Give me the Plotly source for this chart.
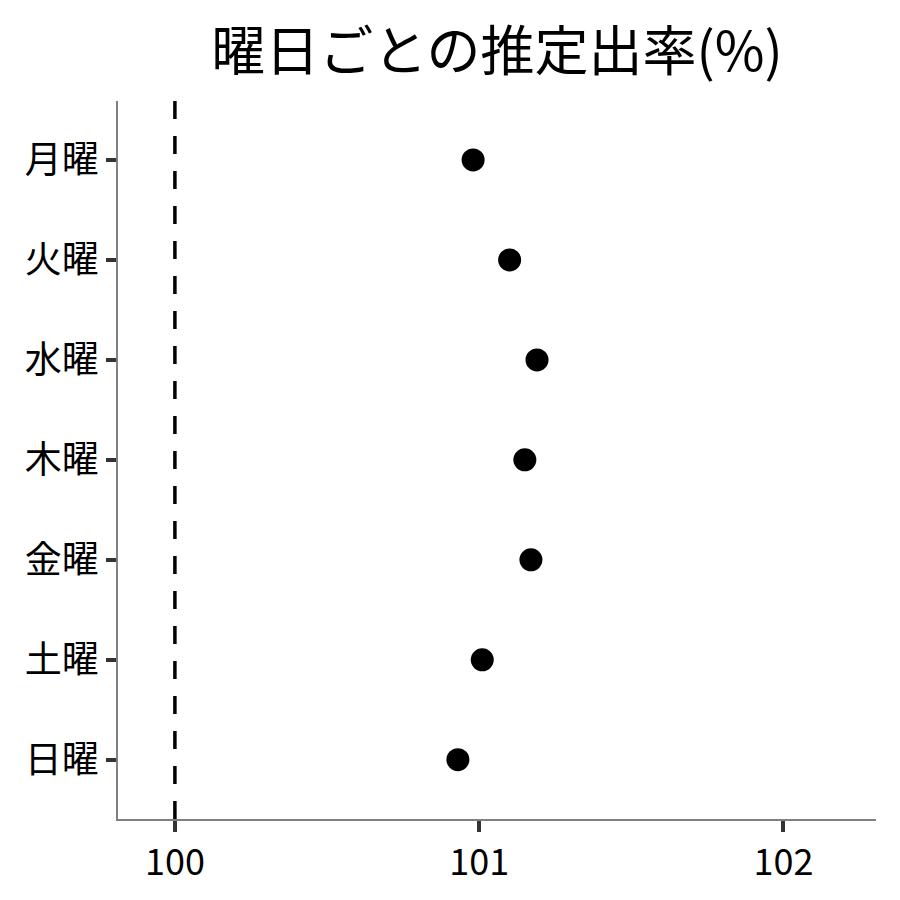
import plotly.graph_objects as go

# ── Data ──────────────────────────────────────────────────────────────────────
days = ['月曜', '火曜', '水曜', '木曜', '金曜', '土曜', '日曜']
rates = [100.98, 101.10, 101.19, 101.15, 101.17, 101.01, 100.93]
baseline = 100
x_ticks = [100, 101, 102]

FONT = 'Noto Sans CJK JP'

# ── Plot ──────────────────────────────────────────────────────────────────────
fig = go.Figure()

fig.add_trace(go.Scatter(
    x=rates, y=days, mode='markers',
    marker=dict(color='black', size=23, line=dict(width=0)),
    showlegend=False, cliponaxis=False,
))

fig.add_shape(
    type='line', xref='x', yref='paper',
    x0=baseline, x1=baseline, y0=1, y1=0,
    line=dict(color='black', width=3.5, dash='18px,17px'),
)

# page body has an 8px margin, so the figure is drawn 8px smaller/offset
fig.update_layout(
    width=892, height=892,
    margin=dict(l=110, r=24, t=93, b=81),
    paper_bgcolor='white', plot_bgcolor='white',
    font=dict(family=FONT, color='black'),
    title=dict(text='曜日ごとの推定出率(%)', x=0.5, xref='paper',
               y=0.951, yref='container', yanchor='middle',
               font=dict(family=FONT, size=54, color='black')),
)

fig.update_xaxes(
    range=[99.813, 102.304], tickvals=x_ticks,
    showgrid=False, zeroline=False,
    showline=True, linecolor='#808080', linewidth=1.5,
    ticks='outside', ticklen=11, tickwidth=3.5, tickcolor='#333333',
    tickfont=dict(family=FONT, size=36, color='black'),
)
fig.update_yaxes(
    categoryorder='array', categoryarray=days,
    range=[6.593, -0.59],
    showgrid=False, zeroline=False,
    showline=True, linecolor='#808080', linewidth=1.5,
    ticks='outside', ticklen=10, tickwidth=3.5, tickcolor='#333333',
    tickfont=dict(family=FONT, size=37, color='black'),
)

fig.write_html('out.html')
